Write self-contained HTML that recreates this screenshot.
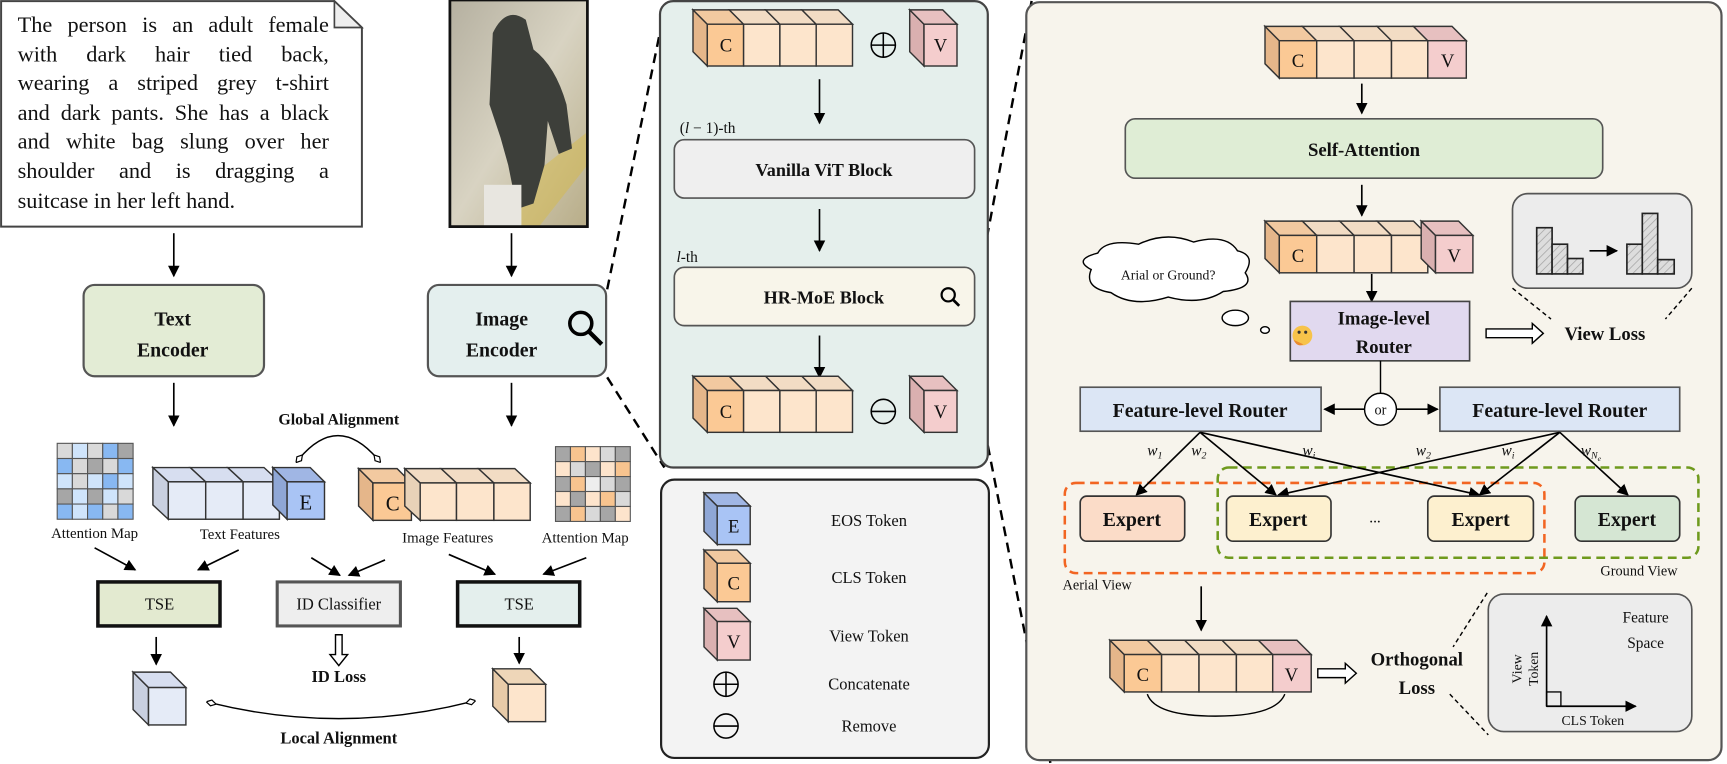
<!DOCTYPE html>
<html><head><meta charset="utf-8"><style>
html,body{margin:0;padding:0;background:#fff}
svg{display:block}
text{font-family:"Liberation Serif",serif;fill:#111}
.b{font-weight:bold}
.note{font-family:"Liberation Serif",serif;font-size:20.3px;line-height:26.6px;color:#111;margin:0}
.note div{text-align:justify;text-align-last:justify;white-space:nowrap;height:26.6px}
.note div.l{text-align-last:left}
</style></head><body>
<svg width="1727" height="764" viewBox="0 0 1570 694.5" preserveAspectRatio="none" xmlns="http://www.w3.org/2000/svg">
<defs>
<marker id="ar" viewBox="0 0 10 10" refX="9" refY="5" markerWidth="7" markerHeight="7" orient="auto-start-reverse"><path d="M0,0 L10,5 L0,10 z" fill="#000"/></marker>
<marker id="dm" viewBox="0 0 10 10" refX="5" refY="5" markerWidth="7" markerHeight="7" orient="auto"><path d="M0,5 L5,2 L10,5 L5,8 z" fill="#fff" stroke="#000" stroke-width="1.2"/></marker>
<pattern id="hatch" width="5" height="5" patternUnits="userSpaceOnUse" patternTransform="rotate(45)"><rect width="5" height="5" fill="#ddd"/><line x1="0" y1="0" x2="0" y2="5" stroke="#aaa" stroke-width="1.5"/></pattern>
<linearGradient id="ph" x1="0" y1="0" x2="1" y2="1"><stop offset="0" stop-color="#b5b0a0"/><stop offset="0.5" stop-color="#d8d3c2"/><stop offset="1" stop-color="#b8ad88"/></linearGradient>
<g id="midrow" stroke="#333" stroke-width="1.3">
<polygon points="630,9 643,22 643,60 630,47" fill="#e5b68a"/>
<polygon points="630,9 663,9 676,22 643,22" fill="#f2c9a0"/>
<polygon points="663,9 696,9 709,22 676,22" fill="#f2dcc4"/>
<polygon points="696,9 729,9 742,22 709,22" fill="#f2dcc4"/>
<polygon points="729,9 762,9 775,22 742,22" fill="#f2dcc4"/>
<rect x="643" y="22" width="33" height="38" fill="#fbc995"/>
<rect x="676" y="22" width="33" height="38" fill="#fde5cc"/>
<rect x="709" y="22" width="33" height="38" fill="#fde5cc"/>
<rect x="742" y="22" width="33" height="38" fill="#fde5cc"/>
<polygon points="827,9 840,22 840,60 827,47" fill="#dab0b0"/>
<polygon points="827,9 857,9 870,22 840,22" fill="#e7c0c0"/>
<rect x="840" y="22" width="30" height="38" fill="#f4cdcd"/>
</g>
<g id="rrowc" stroke="#333" stroke-width="1.3">
<polygon points="1150,24 1163,37 1163,71 1150,58" fill="#e5b68a"/>
<polygon points="1150,24 1184,24 1197,37 1163,37" fill="#f2c9a0"/>
<polygon points="1184,24 1218,24 1231,37 1197,37" fill="#f2dcc4"/>
<polygon points="1218,24 1252,24 1265,37 1231,37" fill="#f2dcc4"/>
<polygon points="1252,24 1285,24 1298,37 1265,37" fill="#f2dcc4"/>
<polygon points="1285,24 1320,24 1333,37 1298,37" fill="#e7c0c0"/>
<rect x="1163" y="37" width="34" height="34" fill="#fbc995"/>
<rect x="1197" y="37" width="34" height="34" fill="#fde5cc"/>
<rect x="1231" y="37" width="34" height="34" fill="#fde5cc"/>
<rect x="1265" y="37" width="33" height="34" fill="#fde5cc"/>
<rect x="1298" y="37" width="35" height="34" fill="#f4cdcd"/>
</g>
</defs>

<path d="M1,1 H304 L329,25 V206 H1 Z" fill="#fff" stroke="#444" stroke-width="1.8"/>
<path d="M304,1 V25 H329 Z" fill="#eee" stroke="#444" stroke-width="1.5"/>
<foreignObject x="16" y="10" width="283" height="195">
<div xmlns="http://www.w3.org/1999/xhtml" class="note">
<div>The person is an adult female</div>
<div>with dark hair tied back,</div>
<div>wearing a striped grey t-shirt</div>
<div>and dark pants. She has a black</div>
<div>and white bag slung over her</div>
<div>shoulder and is dragging a</div>
<div class="l">suitcase in her left hand.</div>
</div>
</foreignObject>
<rect x="409" y="0" width="125" height="206" fill="url(#ph)"/>
<path d="M470,170 L534,120 L534,150 L490,206 L470,206 Z" fill="#d6b94a" opacity="0.5"/>
<path d="M448,30 Q460,5 478,18 L485,45 Q505,60 515,95 L520,135 L508,140 L498,110 L495,150 L485,185 L470,190 L462,150 L455,125 L445,95 Z" fill="#3d3f3a"/>
<rect x="440" y="168" width="34" height="38" fill="#e8e6e0"/>
<rect x="409" y="0" width="125" height="206" fill="none" stroke="#111" stroke-width="2.5"/>

<g stroke="#000" stroke-width="1.5" marker-end="url(#ar)">
<line x1="158" y1="212" x2="158" y2="251"/>
<line x1="465" y1="212" x2="465" y2="251"/>
<line x1="158" y1="348" x2="158" y2="387"/>
<line x1="465" y1="348" x2="465" y2="387"/>
</g>
<rect x="76" y="259" width="164" height="83" rx="10" fill="#e3ecd5" stroke="#555" stroke-width="2"/>
<text x="157" y="296" font-size="18" class="b" text-anchor="middle">Text</text>
<text x="157" y="324" font-size="18" class="b" text-anchor="middle">Encoder</text>
<rect x="389" y="259" width="162" height="83" rx="10" fill="#e4efee" stroke="#555" stroke-width="2"/>
<text x="456" y="296" font-size="18" class="b" text-anchor="middle">Image</text>
<text x="456" y="324" font-size="18" class="b" text-anchor="middle">Encoder</text>
<circle cx="528" cy="294" r="10" fill="none" stroke="#000" stroke-width="3.2"/>
<line x1="535" y1="301" x2="547" y2="313" stroke="#000" stroke-width="4"/>

<text x="308" y="386" font-size="14.5" class="b" text-anchor="middle">Global Alignment</text>
<path d="M272,417 Q307,375 343,417" fill="none" stroke="#000" stroke-width="1.3" marker-start="url(#dm)" marker-end="url(#dm)"/>

<g stroke="#555" stroke-width="1">
<rect x="52" y="403" width="13.8" height="13.8" fill="#d9d9d9"/><rect x="65.8" y="403" width="13.8" height="13.8" fill="#cfe4fb"/><rect x="79.6" y="403" width="13.8" height="13.8" fill="#d9d9d9"/><rect x="93.4" y="403" width="13.8" height="13.8" fill="#88b8f2"/><rect x="107.2" y="403" width="13.8" height="13.8" fill="#a6a6a6"/>
<rect x="52" y="416.8" width="13.8" height="13.8" fill="#88b8f2"/><rect x="65.8" y="416.8" width="13.8" height="13.8" fill="#d9d9d9"/><rect x="79.6" y="416.8" width="13.8" height="13.8" fill="#a6a6a6"/><rect x="93.4" y="416.8" width="13.8" height="13.8" fill="#d9d9d9"/><rect x="107.2" y="416.8" width="13.8" height="13.8" fill="#88b8f2"/>
<rect x="52" y="430.6" width="13.8" height="13.8" fill="#cfe4fb"/><rect x="65.8" y="430.6" width="13.8" height="13.8" fill="#d9d9d9"/><rect x="79.6" y="430.6" width="13.8" height="13.8" fill="#cfe4fb"/><rect x="93.4" y="430.6" width="13.8" height="13.8" fill="#88b8f2"/><rect x="107.2" y="430.6" width="13.8" height="13.8" fill="#cfe4fb"/>
<rect x="52" y="444.4" width="13.8" height="13.8" fill="#a6a6a6"/><rect x="65.8" y="444.4" width="13.8" height="13.8" fill="#cfe4fb"/><rect x="79.6" y="444.4" width="13.8" height="13.8" fill="#a6a6a6"/><rect x="93.4" y="444.4" width="13.8" height="13.8" fill="#cfe4fb"/><rect x="107.2" y="444.4" width="13.8" height="13.8" fill="#d9d9d9"/>
<rect x="52" y="458.2" width="13.8" height="13.8" fill="#88b8f2"/><rect x="65.8" y="458.2" width="13.8" height="13.8" fill="#cfe4fb"/><rect x="79.6" y="458.2" width="13.8" height="13.8" fill="#88b8f2"/><rect x="93.4" y="458.2" width="13.8" height="13.8" fill="#d9d9d9"/><rect x="107.2" y="458.2" width="13.8" height="13.8" fill="#88b8f2"/>
</g>
<text x="86" y="489" font-size="13.5" text-anchor="middle">Attention Map</text>
<g stroke="#555" stroke-width="1">
<rect x="505" y="406" width="13.6" height="13.6" fill="#a6a6a6"/><rect x="518.6" y="406" width="13.6" height="13.6" fill="#f8c48f"/><rect x="532.2" y="406" width="13.6" height="13.6" fill="#fde4cc"/><rect x="545.8" y="406" width="13.6" height="13.6" fill="#d9d9d9"/><rect x="559.4" y="406" width="13.6" height="13.6" fill="#a6a6a6"/>
<rect x="505" y="419.6" width="13.6" height="13.6" fill="#fde4cc"/><rect x="518.6" y="419.6" width="13.6" height="13.6" fill="#d9d9d9"/><rect x="532.2" y="419.6" width="13.6" height="13.6" fill="#a6a6a6"/><rect x="545.8" y="419.6" width="13.6" height="13.6" fill="#fde4cc"/><rect x="559.4" y="419.6" width="13.6" height="13.6" fill="#f8c48f"/>
<rect x="505" y="433.2" width="13.6" height="13.6" fill="#a6a6a6"/><rect x="518.6" y="433.2" width="13.6" height="13.6" fill="#f8c48f"/><rect x="532.2" y="433.2" width="13.6" height="13.6" fill="#eee"/><rect x="545.8" y="433.2" width="13.6" height="13.6" fill="#d9d9d9"/><rect x="559.4" y="433.2" width="13.6" height="13.6" fill="#a6a6a6"/>
<rect x="505" y="446.8" width="13.6" height="13.6" fill="#fde4cc"/><rect x="518.6" y="446.8" width="13.6" height="13.6" fill="#a6a6a6"/><rect x="532.2" y="446.8" width="13.6" height="13.6" fill="#fde4cc"/><rect x="545.8" y="446.8" width="13.6" height="13.6" fill="#f8c48f"/><rect x="559.4" y="446.8" width="13.6" height="13.6" fill="#d9d9d9"/>
<rect x="505" y="460.4" width="13.6" height="13.6" fill="#a6a6a6"/><rect x="518.6" y="460.4" width="13.6" height="13.6" fill="#f8c48f"/><rect x="532.2" y="460.4" width="13.6" height="13.6" fill="#d9d9d9"/><rect x="545.8" y="460.4" width="13.6" height="13.6" fill="#a6a6a6"/><rect x="559.4" y="460.4" width="13.6" height="13.6" fill="#fde4cc"/>
</g>
<text x="532" y="493" font-size="13.5" text-anchor="middle">Attention Map</text>

<g stroke="#333" stroke-width="1.3">
<polygon points="139,425 153,438 153,472 139,459" fill="#c9d0e0"/>
<polygon points="139,425 173,425 187,438 153,438" fill="#d7def0"/>
<polygon points="173,425 207,425 221,438 187,438" fill="#d7def0"/>
<polygon points="207,425 240,425 254,438 221,438" fill="#d7def0"/>
<rect x="153" y="438" width="34" height="34" fill="#e5ebf7"/>
<rect x="187" y="438" width="34" height="34" fill="#e5ebf7"/>
<rect x="221" y="438" width="33" height="34" fill="#e5ebf7"/>
<polygon points="248,425 261,438 261,472 248,459" fill="#8fa7d6"/>
<polygon points="248,425 282,425 295,438 261,438" fill="#a0b6e4"/>
<rect x="261" y="438" width="34" height="34" fill="#a9c4f5"/>
<polygon points="326,426 339,439 339,473 326,460" fill="#e5b68a"/>
<polygon points="326,426 361,426 374,439 339,439" fill="#f2c9a0"/>
<rect x="339" y="439" width="35" height="34" fill="#fbc995"/>
<polygon points="368,426 382,439 382,473 368,460" fill="#e8d2b8"/>
<polygon points="368,426 401,426 415,439 382,439" fill="#f2dcc4"/>
<polygon points="401,426 435,426 449,439 415,439" fill="#f2dcc4"/>
<polygon points="435,426 468,426 482,439 449,439" fill="#f2dcc4"/>
<rect x="382" y="439" width="33" height="34" fill="#fde5cc"/>
<rect x="415" y="439" width="34" height="34" fill="#fde5cc"/>
<rect x="449" y="439" width="33" height="34" fill="#fde5cc"/>
</g>
<text x="278" y="463" font-size="19" text-anchor="middle">E</text>
<text x="357" y="464" font-size="19" text-anchor="middle">C</text>
<text x="218" y="490" font-size="13.5" text-anchor="middle">Text Features</text>
<text x="407" y="493" font-size="13.5" text-anchor="middle">Image Features</text>

<g stroke="#000" stroke-width="1.5" marker-end="url(#ar)">
<line x1="86" y1="498" x2="123" y2="518"/>
<line x1="217" y1="500" x2="180" y2="518"/>
<line x1="283" y1="507" x2="309" y2="523"/>
<line x1="350" y1="509" x2="317" y2="523"/>
<line x1="408" y1="504" x2="450" y2="522"/>
<line x1="533" y1="507" x2="494" y2="522"/>
</g>
<rect x="89" y="529" width="111" height="40" fill="#e3ead0" stroke="#111" stroke-width="3.2"/>
<text x="145" y="554" font-size="15" text-anchor="middle">TSE</text>
<rect x="252" y="529" width="112" height="40" fill="#eee" stroke="#555" stroke-width="2.8"/>
<text x="308" y="554" font-size="15" text-anchor="middle">ID Classifier</text>
<rect x="416" y="529" width="111" height="40" fill="#e4efed" stroke="#111" stroke-width="3.2"/>
<text x="472" y="554" font-size="15" text-anchor="middle">TSE</text>
<g stroke="#000" stroke-width="1.5" marker-end="url(#ar)">
<line x1="142" y1="579" x2="142" y2="604"/>
<line x1="472" y1="579" x2="472" y2="603"/>
</g>
<path d="M305,577 h6 v18 h5 l-8,10 l-8,-10 h5 z" fill="#fff" stroke="#000" stroke-width="1.3"/>
<text x="308" y="620" font-size="15" class="b" text-anchor="middle">ID Loss</text>
<g stroke="#333" stroke-width="1.3">
<polygon points="121,611 135,625 135,659 121,645" fill="#c9d0e0"/>
<polygon points="121,611 155,611 169,625 135,625" fill="#d7def0"/>
<rect x="135" y="625" width="34" height="34" fill="#e5ebf7"/>
<polygon points="448,608 462,622 462,656 448,642" fill="#e8cba8"/>
<polygon points="448,608 482,608 496,622 462,622" fill="#eed6b8"/>
<rect x="462" y="622" width="34" height="34" fill="#fde5cc"/>
</g>
<path d="M192,639 Q310,668 428,638" fill="none" stroke="#000" stroke-width="1.3" marker-start="url(#dm)" marker-end="url(#dm)"/>
<text x="308" y="676" font-size="15" class="b" text-anchor="middle">Local Alignment</text>

<g stroke="#000" stroke-width="2.2" stroke-dasharray="9,6" fill="none">
<line x1="552" y1="263" x2="606" y2="0"/>
<line x1="552" y1="343" x2="604" y2="425"/>
<line x1="886" y1="275" x2="938" y2="0"/>
<line x1="898" y1="405" x2="955" y2="694"/>
</g>

<rect x="600" y="1" width="298" height="424" rx="12" fill="#e5efec" stroke="#444" stroke-width="2"/>
<use href="#midrow"/>
<text x="660" y="47" font-size="17" text-anchor="middle">C</text>
<text x="855" y="47" font-size="17" text-anchor="middle">V</text>
<circle cx="803" cy="41" r="11" fill="none" stroke="#000" stroke-width="1.4"/>
<line x1="792" y1="41" x2="814" y2="41" stroke="#000" stroke-width="1.4"/><line x1="803" y1="30" x2="803" y2="52" stroke="#000" stroke-width="1.4"/>
<g stroke="#000" stroke-width="1.5" marker-end="url(#ar)">
<line x1="745" y1="72" x2="745" y2="112"/>
<line x1="745" y1="190" x2="745" y2="228"/>
<line x1="745" y1="305" x2="745" y2="343"/>
</g>
<text x="618" y="121" font-size="14">(<tspan font-style="italic">l</tspan> − 1)-th</text>
<rect x="613" y="127" width="273" height="53" rx="9" fill="#efefef" stroke="#555" stroke-width="1.5"/>
<text x="749" y="160" font-size="16.5" class="b" text-anchor="middle">Vanilla ViT Block</text>
<text x="615" y="238" font-size="14"><tspan font-style="italic">l</tspan>-th</text>
<rect x="613" y="243" width="273" height="53" rx="9" fill="#f8f5ea" stroke="#555" stroke-width="1.5"/>
<text x="749" y="276" font-size="16.5" class="b" text-anchor="middle">HR-MoE Block</text>
<circle cx="862" cy="268" r="6" fill="none" stroke="#000" stroke-width="2"/>
<line x1="866" y1="272" x2="872" y2="278" stroke="#000" stroke-width="2.5"/>
<use href="#midrow" transform="translate(0,333)"/>
<text x="660" y="380" font-size="17" text-anchor="middle">C</text>
<text x="855" y="380" font-size="17" text-anchor="middle">V</text>
<circle cx="803" cy="374" r="11" fill="none" stroke="#000" stroke-width="1.4"/>
<line x1="792" y1="374" x2="814" y2="374" stroke="#000" stroke-width="1.4"/>

<rect x="601" y="436" width="298" height="253" rx="12" fill="#f3f3f3" stroke="#222" stroke-width="2"/>
<g stroke="#333" stroke-width="1.3">
<polygon points="640,448 652,460 652,495 640,483" fill="#8fa7d6"/>
<polygon points="640,448 670,448 682,460 652,460" fill="#a0b6e4"/>
<rect x="652" y="460" width="30" height="35" fill="#a9c4f5"/>
<polygon points="640,500 652,512 652,547 640,535" fill="#e5b68a"/>
<polygon points="640,500 670,500 682,512 652,512" fill="#f2c9a0"/>
<rect x="652" y="512" width="30" height="35" fill="#fbc995"/>
<polygon points="640,553 652,565 652,600 640,588" fill="#dab0b0"/>
<polygon points="640,553 670,553 682,565 652,565" fill="#e7c0c0"/>
<rect x="652" y="565" width="30" height="35" fill="#f4cdcd"/>
</g>
<text x="667" y="484" font-size="17" text-anchor="middle">E</text>
<text x="667" y="536" font-size="17" text-anchor="middle">C</text>
<text x="667" y="589" font-size="17" text-anchor="middle">V</text>
<circle cx="660" cy="622" r="11" fill="none" stroke="#000" stroke-width="1.4"/>
<line x1="649" y1="622" x2="671" y2="622" stroke="#000" stroke-width="1.4"/><line x1="660" y1="611" x2="660" y2="633" stroke="#000" stroke-width="1.4"/>
<circle cx="660" cy="660" r="11" fill="none" stroke="#000" stroke-width="1.4"/>
<line x1="649" y1="660" x2="671" y2="660" stroke="#000" stroke-width="1.4"/>
<g font-size="15" text-anchor="middle">
<text x="790" y="478">EOS Token</text>
<text x="790" y="530">CLS Token</text>
<text x="790" y="583">View Token</text>
<text x="790" y="627">Concatenate</text>
<text x="790" y="665">Remove</text>
</g>

<rect x="933" y="2" width="632" height="689" rx="12" fill="#f7f4ec" stroke="#555" stroke-width="2"/>
<use href="#rrowc"/>
<text x="1180" y="61" font-size="17" text-anchor="middle">C</text>
<text x="1316" y="61" font-size="17" text-anchor="middle">V</text>
<g stroke="#000" stroke-width="1.5" marker-end="url(#ar)">
<line x1="1238" y1="76" x2="1238" y2="103"/>
<line x1="1238" y1="168" x2="1238" y2="196"/>
<line x1="1247" y1="249" x2="1247" y2="274"/>
<line x1="1092" y1="533" x2="1092" y2="573"/>
</g>
<rect x="1023" y="108" width="434" height="54" rx="9" fill="#dfedd5" stroke="#555" stroke-width="1.5"/>
<text x="1240" y="142" font-size="17" class="b" text-anchor="middle">Self-Attention</text>
<g stroke="#333" stroke-width="1.3">
<polygon points="1150,201 1163,214 1163,248 1150,235" fill="#e5b68a"/>
<polygon points="1150,201 1184,201 1197,214 1163,214" fill="#f2c9a0"/>
<polygon points="1184,201 1218,201 1231,214 1197,214" fill="#f2dcc4"/>
<polygon points="1218,201 1252,201 1265,214 1231,214" fill="#f2dcc4"/>
<polygon points="1252,201 1285,201 1298,214 1265,214" fill="#f2dcc4"/>
<rect x="1163" y="214" width="34" height="34" fill="#fbc995"/>
<rect x="1197" y="214" width="34" height="34" fill="#fde5cc"/>
<rect x="1231" y="214" width="34" height="34" fill="#fde5cc"/>
<rect x="1265" y="214" width="33" height="34" fill="#fde5cc"/>
<polygon points="1292,201 1305,214 1305,248 1292,235" fill="#dab0b0"/>
<polygon points="1292,201 1326,201 1339,214 1305,214" fill="#e7c0c0"/>
<rect x="1305" y="214" width="34" height="34" fill="#f4cdcd"/>
</g>
<text x="1180" y="238" font-size="17" text-anchor="middle">C</text>
<text x="1322" y="238" font-size="17" text-anchor="middle">V</text>
<path d="M992,245 Q975,236 998,230 Q1005,217 1035,222 Q1060,210 1085,220 Q1115,212 1125,228 Q1142,232 1132,248 Q1142,262 1112,265 Q1092,278 1062,270 Q1030,280 1010,266 Q985,262 992,245 Z" fill="#fff" stroke="#000" stroke-width="1.3"/>
<text x="1062" y="254" font-size="12.5" text-anchor="middle">Arial or Ground?</text>
<ellipse cx="1123" cy="289" rx="12" ry="7" fill="#fff" stroke="#000" stroke-width="1.3"/>
<ellipse cx="1150" cy="300" rx="4" ry="3" fill="#fff" stroke="#000" stroke-width="1.3"/>
<rect x="1173" y="274" width="163" height="54" fill="#e1d9ef" stroke="#444" stroke-width="1.5"/>
<text x="1258" y="295" font-size="17" class="b" text-anchor="middle">Image-level</text>
<text x="1258" y="321" font-size="17" class="b" text-anchor="middle">Router</text>
<circle cx="1184" cy="305" r="9" fill="#f7c34a"/>
<circle cx="1187" cy="302" r="1.4" fill="#333"/><circle cx="1181" cy="302" r="1.4" fill="#333"/>
<path d="M1176,309 q3,7 9,4" fill="#e98a30" stroke="none"/>
<path d="M1351,299 h42 v-5 l10,9 l-10,9 v-5 h-42 z" fill="#fff" stroke="#000" stroke-width="1.3"/>
<text x="1459" y="309" font-size="17" class="b" text-anchor="middle">View Loss</text>
<rect x="1375" y="176" width="163" height="86" rx="14" fill="#ececec" stroke="#555" stroke-width="1.5"/>
<g stroke="#222" stroke-width="1.5" fill="url(#hatch)">
<rect x="1397" y="207" width="14" height="42"/><rect x="1411" y="222" width="14" height="27"/><rect x="1425" y="235" width="14" height="14"/>
<rect x="1479" y="222" width="14" height="27"/><rect x="1493" y="194" width="14" height="55"/><rect x="1507" y="236" width="15" height="13"/>
</g>
<line x1="1445" y1="228" x2="1470" y2="228" stroke="#000" stroke-width="1.5" marker-end="url(#ar)"/>
<g stroke="#000" stroke-width="1.3" stroke-dasharray="4,3">
<line x1="1375" y1="262" x2="1410" y2="290"/>
<line x1="1538" y1="262" x2="1514" y2="290"/>
</g>
<line x1="1255" y1="328" x2="1255" y2="357" stroke="#000" stroke-width="1.3"/>
<line x1="1241" y1="372" x2="1204" y2="372" stroke="#000" stroke-width="1.5" marker-end="url(#ar)"/>
<line x1="1269" y1="372" x2="1307" y2="372" stroke="#000" stroke-width="1.5" marker-end="url(#ar)"/>
<circle cx="1255" cy="372" r="14.5" fill="#fff" stroke="#000" stroke-width="1.3"/>
<text x="1255" y="377" font-size="13" text-anchor="middle">or</text>
<rect x="982" y="352" width="219" height="40" fill="#dce6f5" stroke="#555" stroke-width="1.5"/>
<text x="1091" y="379" font-size="18" class="b" text-anchor="middle">Feature-level Router</text>
<rect x="1309" y="352" width="218" height="40" fill="#dce6f5" stroke="#555" stroke-width="1.5"/>
<text x="1418" y="379" font-size="18" class="b" text-anchor="middle">Feature-level Router</text>
<rect x="968" y="439" width="436" height="82" rx="10" fill="none" stroke="#f26522" stroke-width="2.3" stroke-dasharray="8,5"/>
<rect x="1107" y="425" width="437" height="82" rx="10" fill="none" stroke="#6f9a1d" stroke-width="2.3" stroke-dasharray="8,5"/>
<g stroke="#000" stroke-width="1.5" marker-end="url(#ar)">
<line x1="1091" y1="393" x2="1033" y2="450"/>
<line x1="1091" y1="393" x2="1160" y2="450"/>
<line x1="1091" y1="393" x2="1345" y2="450"/>
<line x1="1418" y1="393" x2="1162" y2="450"/>
<line x1="1418" y1="393" x2="1345" y2="450"/>
<line x1="1418" y1="393" x2="1480" y2="450"/>
</g>
<g font-size="14" font-style="italic">
<text x="1043" y="414">w<tspan font-size="9" dy="3">1</tspan></text>
<text x="1083" y="414">w<tspan font-size="9" dy="3">2</tspan></text>
<text x="1184" y="414">w<tspan font-size="9" dy="3">i</tspan></text>
<text x="1287" y="414">w<tspan font-size="9" dy="3">2</tspan></text>
<text x="1365" y="414">w<tspan font-size="9" dy="3">i</tspan></text>
<text x="1437" y="414">w<tspan font-size="9" dy="3">N</tspan><tspan font-size="7" dy="2">e</tspan></text>
</g>
<rect x="982" y="451" width="95" height="41" rx="6" fill="#fbdcc8" stroke="#333" stroke-width="1.5"/>
<text x="1029" y="478" font-size="18" class="b" text-anchor="middle">Expert</text>
<rect x="1115" y="451" width="95" height="41" rx="6" fill="#fdf0cf" stroke="#333" stroke-width="1.5"/>
<text x="1162" y="478" font-size="18" class="b" text-anchor="middle">Expert</text>
<text x="1250" y="475" font-size="14" text-anchor="middle">...</text>
<rect x="1298" y="451" width="96" height="41" rx="6" fill="#fdf0cf" stroke="#333" stroke-width="1.5"/>
<text x="1346" y="478" font-size="18" class="b" text-anchor="middle">Expert</text>
<rect x="1432" y="451" width="95" height="41" rx="6" fill="#d5e6d3" stroke="#333" stroke-width="1.5"/>
<text x="1479" y="478" font-size="18" class="b" text-anchor="middle">Expert</text>
<text x="966" y="536" font-size="13">Aerial View</text>
<text x="1490" y="523" font-size="13" text-anchor="middle">Ground View</text>
<use href="#rrowc" transform="translate(-141,558)"/>
<text x="1039" y="619" font-size="17" text-anchor="middle">C</text>
<text x="1174" y="619" font-size="17" text-anchor="middle">V</text>
<path d="M1043,631 Q1050,651 1105,651 Q1160,651 1168,631" fill="none" stroke="#000" stroke-width="1.3"/>
<path d="M1198,608 h25 v-5 l10,9 l-10,9 v-5 h-25 z" fill="#fff" stroke="#000" stroke-width="1.3"/>
<text x="1288" y="605" font-size="17" class="b" text-anchor="middle">Orthogonal</text>
<text x="1288" y="631" font-size="17" class="b" text-anchor="middle">Loss</text>
<g stroke="#000" stroke-width="1.3" stroke-dasharray="4,3">
<line x1="1352" y1="539" x2="1321" y2="588"/>
<line x1="1318" y1="631" x2="1353" y2="668"/>
</g>
<rect x="1353" y="540" width="185" height="125" rx="14" fill="#ececec" stroke="#555" stroke-width="1.5"/>
<text x="1496" y="566" font-size="14" text-anchor="middle">Feature</text>
<text x="1496" y="589" font-size="14" text-anchor="middle">Space</text>
<line x1="1406" y1="642" x2="1406" y2="560" stroke="#000" stroke-width="1.5" marker-end="url(#ar)"/>
<line x1="1406" y1="642" x2="1487" y2="642" stroke="#000" stroke-width="1.5" marker-end="url(#ar)"/>
<rect x="1406" y="629" width="13" height="13" fill="none" stroke="#000" stroke-width="1.2"/>
<text transform="translate(1383,608) rotate(-90)" font-size="12.5" text-anchor="middle">View</text>
<text transform="translate(1398,608) rotate(-90)" font-size="12.5" text-anchor="middle">Token</text>
<text x="1448" y="659" font-size="12.5" text-anchor="middle">CLS Token</text>
</svg>
</body></html>
